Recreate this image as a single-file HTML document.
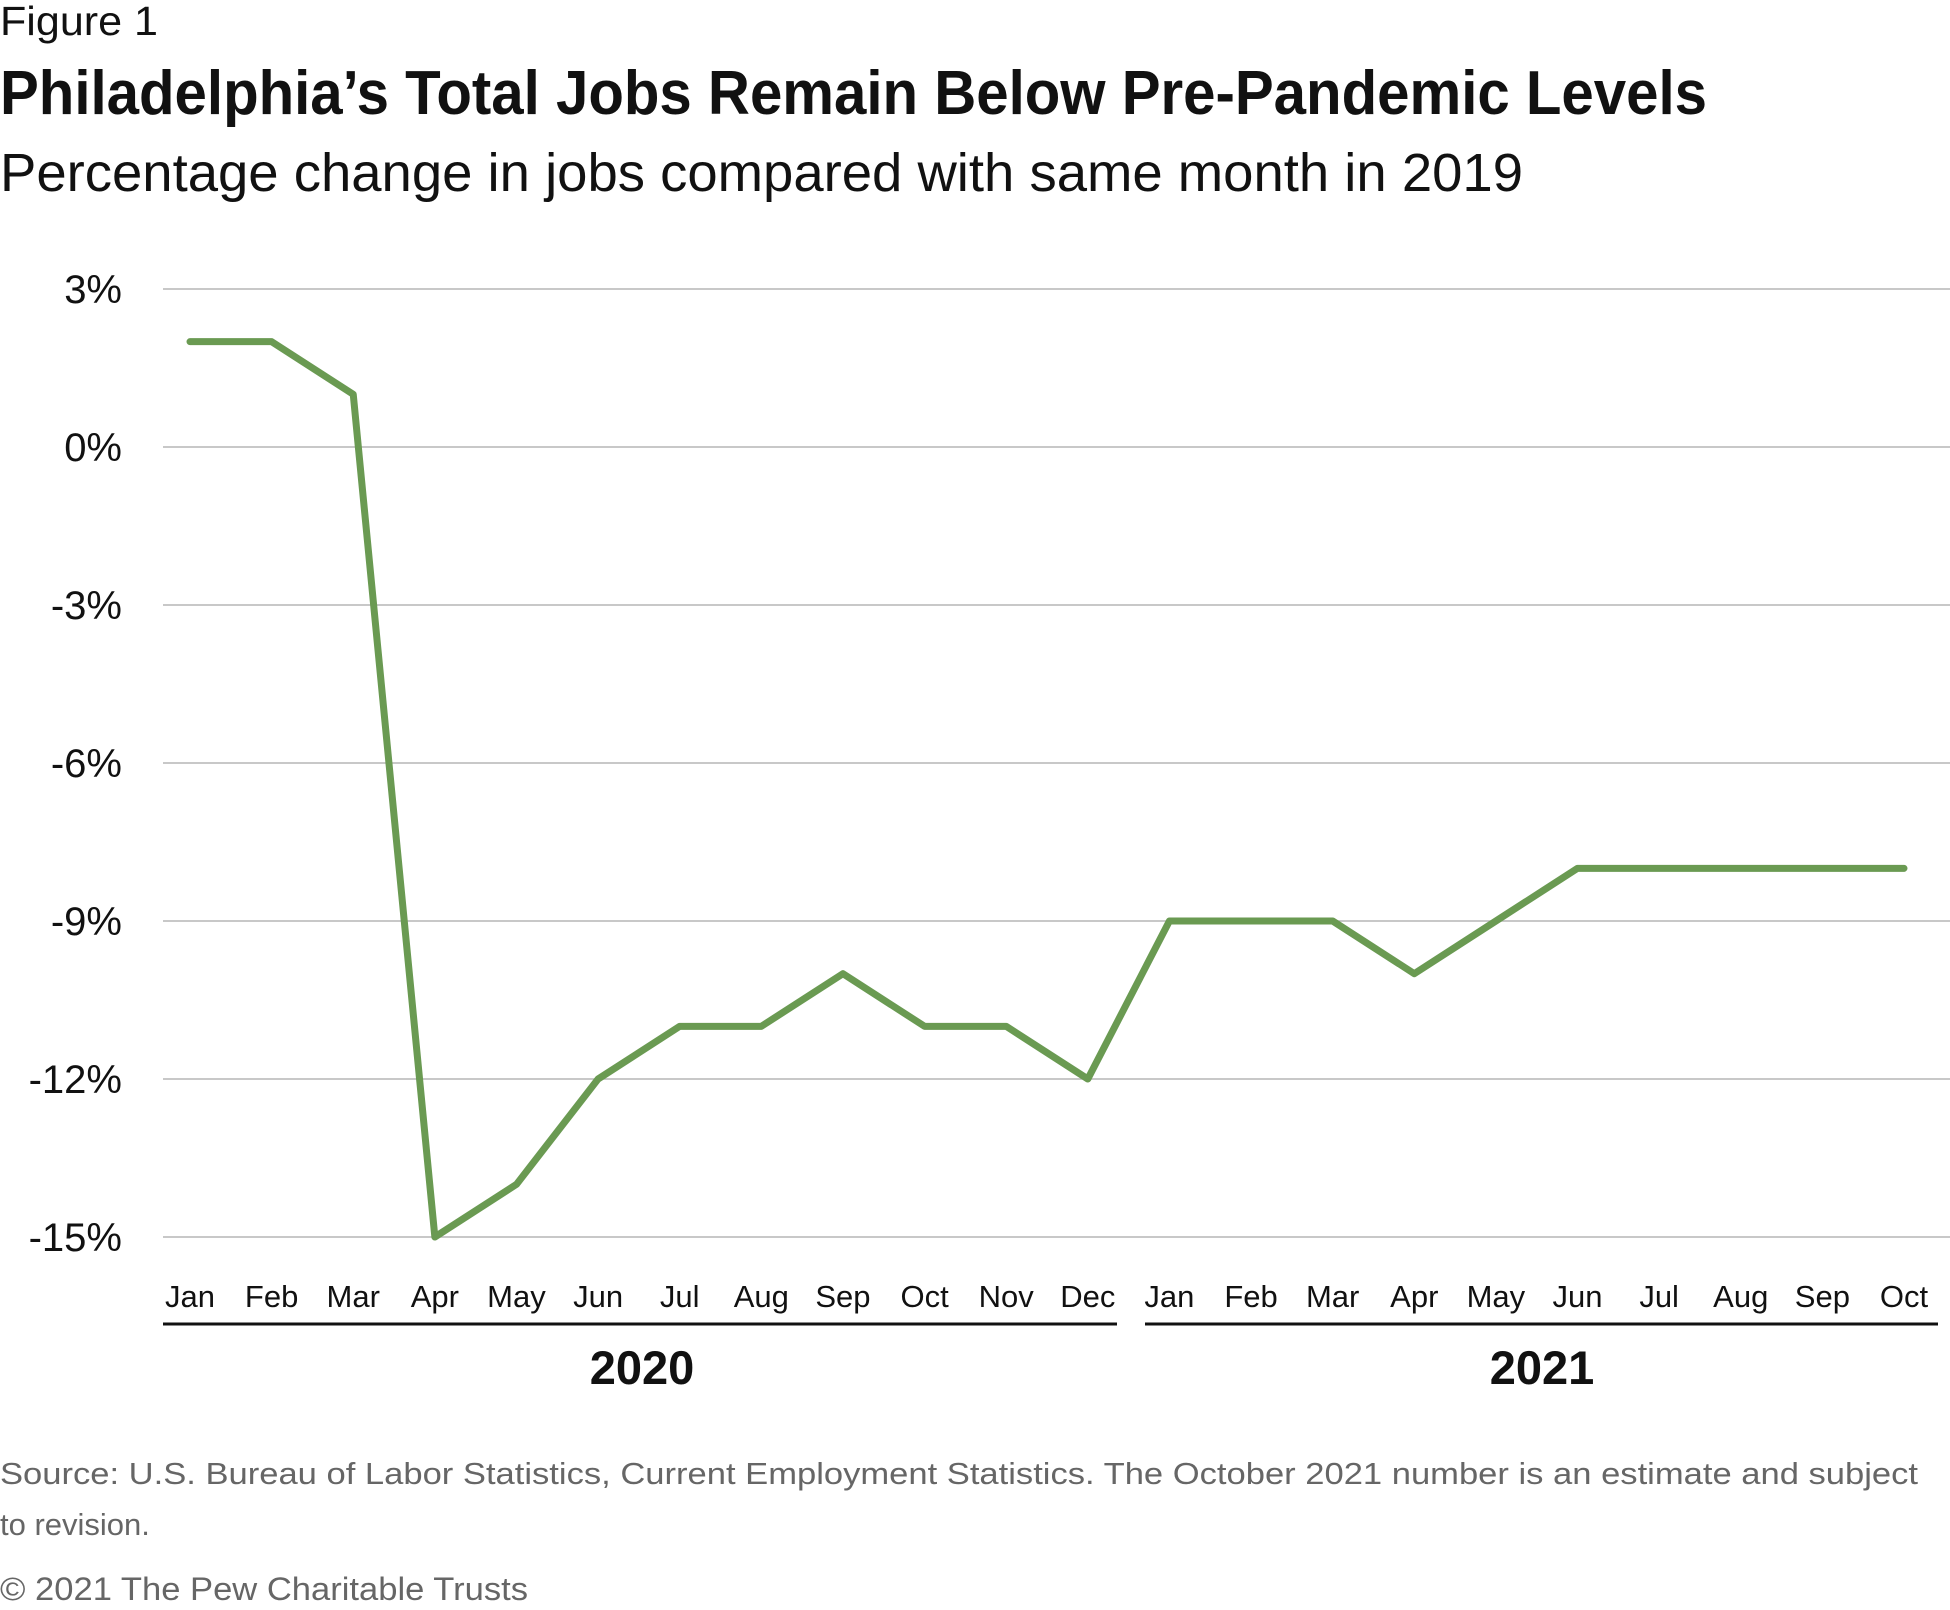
<!DOCTYPE html>
<html><head><meta charset="utf-8"><style>
body{margin:0;background:#fff;}
svg{display:block;font-family:"Liberation Sans",sans-serif;}
</style></head><body>
<svg id="chart" width="1950" height="1610" viewBox="0 0 1950 1610">
<text x="0" y="35" font-size="41" fill="#111" textLength="158" lengthAdjust="spacingAndGlyphs">Figure 1</text>
<text x="0" y="114" font-size="62" font-weight="bold" fill="#111" textLength="1707" lengthAdjust="spacingAndGlyphs">Philadelphia’s Total Jobs Remain Below Pre-Pandemic Levels</text>
<text x="0" y="191" font-size="54" fill="#111" textLength="1523" lengthAdjust="spacingAndGlyphs">Percentage change in jobs compared with same month in 2019</text>
<g id="grid"></g><g id="yticks"></g><g id="xticks"></g>
<path id="line" fill="none" stroke="#6a9a52" stroke-width="7" stroke-linejoin="round" stroke-linecap="round"/>
<line x1="163" y1="1324" x2="1117" y2="1324" stroke="#111" stroke-width="3"/>
<line x1="1145" y1="1324" x2="1938" y2="1324" stroke="#111" stroke-width="3"/>
<text x="642" y="1384" font-size="47" font-weight="bold" text-anchor="middle" fill="#111">2020</text>
<text x="1542" y="1384" font-size="47" font-weight="bold" text-anchor="middle" fill="#111">2021</text>
<text x="0" y="1484" font-size="31" fill="#666" textLength="1918" lengthAdjust="spacingAndGlyphs">Source: U.S. Bureau of Labor Statistics, Current Employment Statistics. The October 2021 number is an estimate and subject</text>
<text x="0" y="1535" font-size="31" fill="#666">to revision.</text>
<text x="0" y="1600" font-size="32" fill="#666" textLength="528" lengthAdjust="spacingAndGlyphs">© 2021 The Pew Charitable Trusts</text>
</svg>
<script>
const months=["Jan","Feb","Mar","Apr","May","Jun","Jul","Aug","Sep","Oct","Nov","Dec","Jan","Feb","Mar","Apr","May","Jun","Jul","Aug","Sep","Oct"];
const values=[2,2,1,-15,-14,-12,-11,-11,-10,-11,-11,-12,-9,-9,-9,-10,-9,-8,-8,-8,-8,-8];
const yTicks=[3,0,-3,-6,-9,-12,-15];
const NS="http://www.w3.org/2000/svg";
const x=i=>190+i*(1904-190)/(months.length-1);
const y=v=>289+(3-v)*(1237-289)/18;
const g=document.getElementById('grid'),yt=document.getElementById('yticks'),xt=document.getElementById('xticks');
yTicks.forEach(t=>{
 const l=document.createElementNS(NS,'line');
 
 
 l.setAttribute('x1',163);l.setAttribute('x2',1950);l.setAttribute('y1',y(t));l.setAttribute('y2',y(t));
 l.setAttribute('stroke','#b5b5b5');l.setAttribute('stroke-width',1.5);g.appendChild(l);
 const tx=document.createElementNS(NS,'text');
 
 
 tx.setAttribute('x',122);tx.setAttribute('y',y(t)+14);tx.setAttribute('text-anchor','end');tx.setAttribute('font-size','40');tx.setAttribute('fill','#111');
 tx.textContent=t+'%';yt.appendChild(tx);
});
months.forEach((m,i)=>{
 const tx=document.createElementNS(NS,'text');
 
 
 tx.setAttribute('x',x(i));tx.setAttribute('y',1307);tx.setAttribute('text-anchor','middle');tx.setAttribute('font-size','31');tx.setAttribute('fill','#111');
 tx.textContent=m;xt.appendChild(tx);
});
document.getElementById('line').setAttribute('d',values.map((v,i)=>(i?'L':'M')+x(i)+','+y(v)).join(''));
</script>
</body></html>
